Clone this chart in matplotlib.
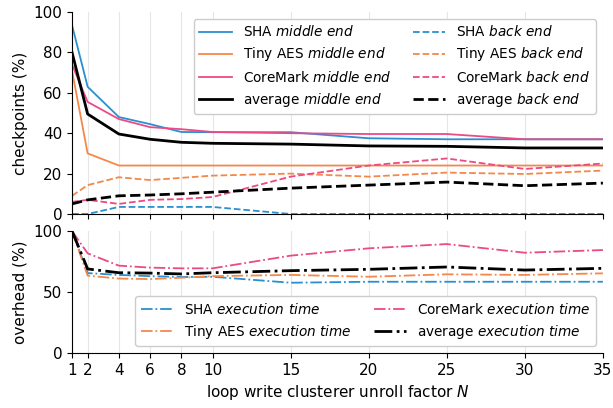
import numpy as np
import matplotlib
matplotlib.use('Agg')
import matplotlib.pyplot as plt

plt.rcParams['font.family'] = ['DejaVu Sans']
plt.rcParams['mathtext.fontset'] = 'dejavusans'

# unroll factors
N = [1, 2, 4, 6, 8, 10, 15, 20, 25, 30, 35]
xticks = [1, 2, 4, 6, 8, 10, 15, 20, 25, 30, 35]

# checkpoints (%), middle end
sha_mid = [93.5, 63, 48, 44.5, 40.6, 40.5, 40.5, 37.5, 37, 37, 37]
aes_mid = [71, 30, 24, 24, 24, 24, 24, 24, 24, 24, 24]
cm_mid = [74, 55.5, 47, 43, 42, 40.6, 40, 39.6, 39.6, 37, 37]
avg_mid = [80, 49.5, 39.6, 37, 35.5, 35, 34.6, 33.7, 33.5, 32.7, 32.7]

# checkpoints (%), back end
sha_back = [0, 0, 3.5, 3.5, 3.5, 3.5, 0, 0, 0, 0, 0]
aes_back = [9, 14.3, 18.2, 16.8, 17.9, 19, 20, 18.5, 20.5, 19.8, 21.5]
cm_back = [6, 7, 5, 7, 7.4, 8.4, 18.5, 24, 27.5, 22.3, 25]
avg_back = [5, 7, 9, 9.4, 10, 10.8, 12.8, 14.3, 15.8, 14, 15.3]

# overhead (%), execution time
sha_exec = [100, 65.5, 64, 63, 62.3, 62.5, 57.6, 58.4, 58.4, 58.4, 58.4]
aes_exec = [100, 63.4, 61, 60.6, 61.7, 63, 64, 62.5, 64.5, 64, 65.3]
cm_exec = [100, 81.7, 71.6, 70, 69.4, 69.4, 79.8, 85.8, 89.3, 82.2, 84.4]
avg_exec = [100, 68.9, 65.8, 65.5, 64.8, 65.8, 67.5, 68.6, 70.5, 68, 69.4]

c_sha = '#2a8fd0'
c_aes = '#f4884a'
c_cm = '#ec4a86'
c_avg = 'black'

fig = plt.figure(figsize=(6.13, 4.08), dpi=100)
ax1 = fig.add_axes([0.1175, 0.4755, 0.866, 0.495])
ax2 = fig.add_axes([0.1175, 0.1348, 0.866, 0.299])

def it(s):
    return r'$\mathit{' + s.replace(' ', r'\ ') + '}$'

# top panel
ax1.plot(N, sha_mid, '-', color=c_sha, lw=1.3, label='SHA ' + it('middle end'))
ax1.plot(N, aes_mid, '-', color=c_aes, lw=1.3, label='Tiny AES ' + it('middle end'))
ax1.plot(N, cm_mid, '-', color=c_cm, lw=1.3, label='CoreMark ' + it('middle end'))
ax1.plot(N, avg_mid, '-', color=c_avg, lw=2, label='average ' + it('middle end'))
ax1.plot(N, sha_back, '--', color=c_sha, lw=1.3, label='SHA ' + it('back end'))
ax1.plot(N, aes_back, '--', color=c_aes, lw=1.3, label='Tiny AES ' + it('back end'))
ax1.plot(N, cm_back, '--', color=c_cm, lw=1.3, label='CoreMark ' + it('back end'))
ax1.plot(N, avg_back, '--', color=c_avg, lw=2, label='average ' + it('back end'))

# bottom panel
ax2.plot(N, sha_exec, '-.', color=c_sha, lw=1.3, label='SHA ' + it('execution time'))
ax2.plot(N, aes_exec, '-.', color=c_aes, lw=1.3, label='Tiny AES ' + it('execution time'))
ax2.plot(N, cm_exec, '-.', color=c_cm, lw=1.3, label='CoreMark ' + it('execution time'))
ax2.plot(N, avg_exec, '-.', color=c_avg, lw=2, label='average ' + it('execution time'))

for ax in (ax1, ax2):
    ax.set_xlim(1, 35)
    ax.set_xticks(xticks)
    ax.grid(axis='x', color='#e6e6e6', lw=0.8)
    ax.set_axisbelow(True)
    ax.spines['top'].set_visible(False)
    ax.spines['right'].set_visible(False)
    ax.tick_params(labelsize=11)

ax1.set_ylim(0, 100)
ax1.set_yticks([0, 20, 40, 60, 80, 100])
ax1.tick_params(labelbottom=False)
ax1.set_ylabel('checkpoints (%)', fontsize=11)

ax2.set_ylim(0, 100)
ax2.set_yticks([0, 50, 100])
ax2.set_ylabel('overhead (%)', fontsize=11)
ax2.set_xlabel('loop write clusterer unroll factor ' + r'$\mathit{N}$', fontsize=11)

ax1.legend(ncol=2, loc='upper right', fontsize=9.8, framealpha=1,
           edgecolor='#cccccc', handlelength=2.4, columnspacing=1.6,
           borderaxespad=0.5, labelspacing=0.45)
ax2.legend(ncol=2, loc='lower right', fontsize=9.8, framealpha=1,
           edgecolor='#cccccc', handlelength=2.4, columnspacing=1.6,
           borderaxespad=0.5, labelspacing=0.45)

fig.align_ylabels([ax1, ax2])
plt.savefig('out.png', dpi=100)
